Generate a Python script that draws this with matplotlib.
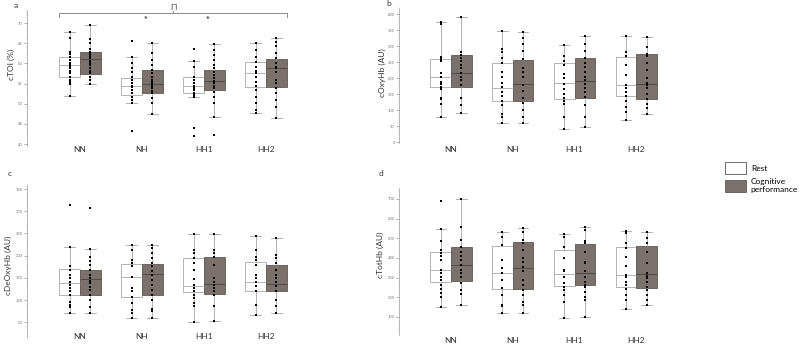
import numpy as np, matplotlib
matplotlib.use("Agg"); import matplotlib.pyplot as plt
from matplotlib.ticker import MultipleLocator, AutoMinorLocator
from matplotlib.patches import Patch

plt.rcParams["font.family"] = ["Lato", "DejaVu Sans"]

groups = ["NN", "NH", "HH1", "HH2"]

# box stats per group: (whislo, q1, med, q3, whishi)
toi_rest_box = [(51.9, 56.5, 59.5, 61.7, 67.7), (50.3, 52.1, 54.5, 56.3, 61.5),
                (51.7, 52.7, 54.4, 56.7, 60.6), (47.6, 54.1, 57.6, 60.3, 65.1)]
toi_cog_box = [(54.9, 57.3, 61.0, 62.7, 69.5), (47.5, 52.7, 54.9, 58.4, 65.0),
               (46.6, 53.3, 55.6, 58.4, 64.7), (46.5, 54.2, 58.8, 61.2, 66.2)]
toi_rest_pts = [
    [67.7, 66.4, 62.7, 62.2, 61.7, 60.8, 60.2, 59.6, 59.2, 58.8, 58.2, 57.5, 56.7, 56.0, 55.5, 54.9, 51.9],
    [65.6, 61.5, 60.0, 58.8, 57.9, 56.7, 55.9, 55.1, 54.5, 54.1, 53.4, 52.6, 51.6, 50.9, 50.3, 43.2],
    [63.5, 60.6, 59.2, 56.7, 55.9, 55.1, 54.4, 53.8, 53.4, 52.7, 52.2, 51.7, 44.0, 42.0],
    [65.1, 63.3, 61.7, 60.4, 59.2, 58.2, 57.5, 56.7, 55.5, 54.4, 53.4, 51.7, 50.1, 48.4, 47.6],
]
toi_cog_pts = [
    [69.5, 66.0, 65.0, 63.5, 62.7, 62.3, 61.8, 61.3, 60.6, 60.0, 59.6, 58.8, 58.1, 57.5, 56.7, 56.0, 54.9],
    [65.0, 62.5, 60.8, 59.6, 58.4, 57.5, 56.7, 56.0, 55.5, 54.9, 54.4, 53.8, 53.2, 52.6, 51.3, 50.1, 47.5],
    [64.7, 63.3, 62.1, 60.8, 59.6, 58.8, 57.9, 57.1, 56.3, 55.6, 55.1, 54.4, 53.8, 53.0, 51.7, 50.1, 46.6, 42.3],
    [66.2, 65.4, 64.2, 62.5, 61.3, 60.0, 59.2, 58.8, 57.9, 55.9, 55.2, 53.8, 52.6, 50.9, 49.3, 46.5],
]

oxy_rest_box = [(79, 172, 205, 260, 375), (60, 128, 169, 247, 348),
                (43, 134, 185, 249, 304), (71, 144, 178, 268, 331)]
oxy_cog_box = [(92, 174, 218, 274, 391), (60, 129, 181, 258, 344),
               (48, 139, 191, 264, 331), (90, 134, 183, 275, 328)]
oxy_rest_pts = [
    [375, 370, 268, 260, 254, 216, 205, 189, 181, 174, 167, 139, 134, 120, 79],
    [348, 293, 282, 265, 249, 221, 205, 185, 172, 156, 145, 128, 117, 90, 79, 60],
    [304, 271, 254, 243, 214, 202, 181, 167, 150, 139, 128, 120, 79, 43],
    [331, 282, 271, 243, 211, 178, 170, 156, 145, 128, 112, 95, 71],
]
oxy_cog_pts = [
    [391, 282, 273, 265, 254, 243, 232, 218, 205, 194, 178, 139, 117, 92],
    [344, 326, 306, 287, 260, 232, 221, 205, 178, 161, 139, 123, 101, 79, 60],
    [331, 309, 287, 265, 249, 236, 221, 205, 194, 181, 170, 156, 141, 117, 79, 48],
    [328, 298, 276, 269, 249, 225, 200, 185, 178, 170, 150, 134, 120, 106, 90],
]

deoxy_rest_box = [(71, 111, 138, 171, 219), (60, 108, 152, 181, 224),
                  (51, 118, 133, 196, 249), (67, 120, 142, 187, 245)]
deoxy_cog_box = [(71, 111, 148, 168, 215), (60, 111, 159, 182, 224),
                 (54, 114, 136, 197, 249), (71, 120, 136, 179, 239)]
deoxy_rest_pts = [
    [314, 219, 176, 168, 157, 150, 142, 135, 127, 120, 111, 97, 90, 84, 71],
    [224, 213, 191, 183, 176, 153, 127, 120, 108, 93, 78, 71, 60],
    [249, 213, 206, 194, 183, 168, 147, 135, 127, 120, 112, 105, 93, 86, 51],
    [245, 213, 197, 191, 179, 157, 150, 142, 131, 120, 90, 67],
]
deoxy_cog_pts = [
    [308, 215, 198, 189, 179, 168, 157, 150, 144, 138, 129, 123, 111, 101, 84, 71],
    [224, 218, 206, 194, 183, 176, 165, 157, 146, 135, 123, 112, 101, 80, 75, 60],
    [249, 213, 207, 198, 179, 150, 142, 135, 127, 120, 112, 86, 54],
    [239, 202, 194, 183, 168, 157, 150, 142, 131, 120, 101, 86, 71],
]

tot_rest_box = [(151, 280, 339, 431, 546), (119, 241, 322, 459, 532),
                (92, 258, 317, 441, 522), (139, 253, 312, 456, 537)]
tot_cog_box = [(163, 285, 363, 453, 700), (119, 241, 351, 480, 551),
               (102, 263, 325, 471, 556), (161, 249, 317, 459, 531)]
tot_rest_pts = [
    [690, 546, 488, 441, 424, 410, 390, 339, 322, 305, 288, 263, 241, 220, 203, 151],
    [532, 508, 466, 390, 347, 322, 288, 246, 212, 161, 153, 119],
    [522, 508, 458, 398, 339, 331, 305, 271, 251, 237, 212, 178, 92],
    [537, 529, 475, 449, 407, 359, 314, 302, 280, 263, 241, 212, 186, 139],
]
tot_cog_pts = [
    [700, 559, 492, 454, 432, 410, 390, 364, 339, 322, 305, 271, 237, 217, 163],
    [551, 534, 492, 475, 441, 398, 381, 356, 331, 288, 263, 237, 212, 178, 161, 119],
    [556, 542, 488, 475, 432, 381, 373, 331, 305, 280, 263, 251, 229, 203, 186, 102],
    [531, 500, 475, 432, 376, 322, 308, 297, 280, 254, 237, 212, 186, 161],
]

REST_EDGE = "#a8a8a8"; COG_FILL = "#7a716c"; COG_EDGE = "#5f5854"
WHISK = "#a5a5a5"; TICK = "#777777"
W = 0.335
pos = np.arange(1, 5)


def panel(rect, xlim, ylim, step, rest_box, cog_box, rest_pts, cog_pts,
          ylabel, lab_xy, xpad):
    ax = fig.add_axes(rect)
    for boxes, pts, shift, face, edge, med in (
            (rest_box, rest_pts, -W / 2, "white", REST_EDGE, REST_EDGE),
            (cog_box, cog_pts, W / 2, COG_FILL, COG_EDGE, "#4a4441")):
        stats = [dict(whislo=b[0], q1=b[1], med=b[2], q3=b[3], whishi=b[4]) for b in boxes]
        ax.bxp(stats, positions=pos + shift, widths=W, showfliers=False, patch_artist=True,
               boxprops=dict(facecolor=face, edgecolor=edge, lw=0.6),
               medianprops=dict(color=med, lw=0.6),
               whiskerprops=dict(color=WHISK, lw=0.6),
               capprops=dict(color=WHISK, lw=0.6), capwidths=W * 0.5, manage_ticks=False)
        for p, vals in zip(pos + shift, pts):
            ax.scatter(np.full(len(vals), p), vals, s=2.0, marker="s", color="black",
                       lw=0, zorder=5)
    ax.set_xlim(*xlim); ax.set_ylim(*ylim)
    for s in ("top", "right", "bottom"):
        ax.spines[s].set_visible(False)
    ax.spines["left"].set_color("#9a9a9a"); ax.spines["left"].set_linewidth(0.5)
    ax.yaxis.set_major_locator(MultipleLocator(step))
    ax.yaxis.set_minor_locator(AutoMinorLocator(5))
    ax.tick_params(axis="y", which="major", length=2, width=0.4, colors=TICK,
                   labelsize=3, pad=1)
    ax.tick_params(axis="y", which="minor", length=1, width=0.3, colors="#aaaaaa")
    ax.set_xticks(pos); ax.set_xticklabels(groups)
    ax.tick_params(axis="x", length=0, labelsize=6, pad=xpad, labelcolor="#333333")
    ax.set_ylabel(ylabel, fontsize=6, color="#333333", va="center")
    ax.yaxis.set_label_coords(*lab_xy)
    ax.patch.set_alpha(0)
    return ax


fig = plt.figure(figsize=(8, 3.44), dpi=100)

a = panel([27 / 800, 0.5765, 270 / 800, 0.3953], (0.145, 4.50), (39.6, 73.3), 5,
          toi_rest_box, toi_cog_box, toi_rest_pts, toi_cog_pts, "cTOI (%)", (-0.056, 0.60), 0.5)
b = panel([399 / 800, 0.5843, 270 / 800, 0.3924], (0.157, 4.53), (-2, 420), 50,
          oxy_rest_box, oxy_cog_box, oxy_rest_pts, oxy_cog_pts, "cOxyHb (AU)", (-0.063, 0.52), 2)
c = panel([27 / 800, 0.0212, 270 / 800, 0.441], (0.145, 4.50), (18, 359), 50,
          deoxy_rest_box, deoxy_cog_box, deoxy_rest_pts, deoxy_cog_pts, "cDeOxyHb (AU)",
          (-0.067, 0.47), -2.5)
d = panel([399 / 800, 0.0262, 270 / 800, 0.4264], (0.157, 4.53), (8, 754), 100,
          tot_rest_box, tot_cog_box, tot_rest_pts, tot_cog_pts, "cTotHb (AU)", (-0.07, 0.545), 1.5)

# significance marks on panel a: bracket spans from NN rest box to HH2 cognitive box
left = pos[0] - W
right = pos[-1] + W
bk = dict(color="#8a8a8a", lw=0.7, clip_on=False)
a.plot([left, left, right, right], [71.4, 72.4, 72.4, 71.4], **bk)
a.plot([2.5, 2.5], [72.4, 72.9], **bk)
a.text(2.5, 73.0, "Π", ha="center", va="bottom", fontsize=6, color="#444444")
for g in (1, 2):
    a.text(pos[g] + 0.06, 70.5, "*", ha="center", va="center", fontsize=6.5,
           fontweight="bold", color="#333333")

for letter, x, y in (("a", 16, 6), ("b", 389, 4), ("c", 10, 174), ("d", 381, 174)):
    fig.text(x / 800, 1 - y / 344, letter, fontsize=6, ha="center", va="center", color="#333333")

handles = [Patch(facecolor="white", edgecolor="#555555", lw=0.6, label="Rest"),
           Patch(facecolor=COG_FILL, edgecolor=COG_EDGE, lw=0.6, label="Cognitive\nperformance")]
fig.legend(handles=handles, loc="upper left", bbox_to_anchor=(725 / 800, 1 - 162 / 344),
           frameon=False, fontsize=6, handlelength=2.5, handleheight=1.8,
           labelspacing=0.5, handletextpad=0.6, borderpad=0, borderaxespad=0)

fig.savefig("out.png", dpi=100)
